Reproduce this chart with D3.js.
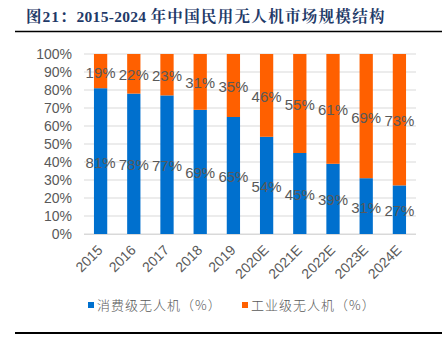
<!DOCTYPE html>
<html><head><meta charset="utf-8">
<script src="https://cdn.jsdelivr.net/npm/d3@7"></script>
<style>body{margin:0;background:#fff}</style>
</head><body>
<svg id="c" width="442" height="351"></svg>
<script>
const categories = ["2015","2016","2017","2018","2019","2020E","2021E","2022E","2023E","2024E"];
const consumer = [81,78,77,69,65,54,45,39,31,27];
const industrial = [19,22,23,31,35,46,55,61,69,73];
const yTicks = [0,10,20,30,40,50,60,70,80,90,100];
const seriesNames = ["消费级无人机（%）","工业级无人机（%）"];
const colors = ["#0070CE","#FF6000"];

const svg = d3.select("#c");
const title = svg.append("text").attr("x",26).attr("y",22)
  .attr("font-family","'Liberation Serif','Noto Serif CJK SC','Noto Sans CJK SC',serif")
  .attr("font-weight","bold").attr("font-size",15.5).attr("fill","#1F3A68");
title.append("tspan").attr("letter-spacing",1).text("图21：");
title.append("tspan").attr("letter-spacing",0.3).text("2015-2024 ");
title.append("tspan").attr("letter-spacing",1.3).text("年中国民用无人机市场规模结构");
svg.append("line").attr("x1",15).attr("x2",442).attr("y1",31.5).attr("y2",31.5).attr("stroke","#000").attr("stroke-width",1.5);
svg.append("line").attr("x1",15).attr("x2",442).attr("y1",333).attr("y2",333).attr("stroke","#000").attr("stroke-width",2);

const m = {l:84, r:416, t:54, b:234};
const x = d3.scaleBand().domain(categories).range([m.l,m.r]).paddingInner(0.6).paddingOuter(0.3);
const y = d3.scaleLinear().domain([0,100]).range([m.b,m.t]);

const g = svg.append("g");
g.selectAll(".grid").data(yTicks).join("line")
  .attr("x1",m.l).attr("x2",m.r).attr("y1",d=>y(d)).attr("y2",d=>y(d))
  .attr("stroke","#d9d9d9").attr("stroke-width",1);

const yAxis = g.append("g").attr("transform",`translate(${m.l},0)`)
  .call(d3.axisLeft(y).tickValues(yTicks).tickFormat(d=>d+"%").tickSize(0).tickPadding(12));
yAxis.select(".domain").remove();
yAxis.selectAll("text").attr("font-family","Liberation Sans, Arial, sans-serif").attr("font-size",14).attr("fill","#595959");

const data = categories.map((c,i)=>({c, a:consumer[i], b:industrial[i]}));
g.selectAll(".ba").data(data).join("rect")
  .attr("x",d=>x(d.c)).attr("width",x.bandwidth())
  .attr("y",d=>y(d.a)).attr("height",d=>y(0)-y(d.a)).attr("fill",colors[0]);
g.selectAll(".bb").data(data).join("rect")
  .attr("x",d=>x(d.c)).attr("width",x.bandwidth())
  .attr("y",d=>y(d.a+d.b)).attr("height",d=>y(d.a)-y(d.a+d.b)).attr("fill",colors[1]);

g.append("line").attr("x1",m.l).attr("x2",m.r).attr("y1",y(0)+0.5).attr("y2",y(0)+0.5).attr("stroke","#d9d9d9");

const lbl = (sel)=>sel.attr("text-anchor","middle").attr("dominant-baseline","central")
  .attr("font-family","Liberation Sans, Arial, sans-serif").attr("font-size",15).attr("fill","#595959");
g.selectAll(".la").data(data).join("text").call(lbl)
  .attr("x",d=>x(d.c)+x.bandwidth()/2).attr("y",d=>y(d.a/2)+1).text(d=>d.a+"%");
g.selectAll(".lb").data(data).join("text").call(lbl)
  .attr("x",d=>x(d.c)+x.bandwidth()/2).attr("y",d=>y(d.a+d.b/2)+1).text(d=>d.b+"%");

const xAxis = g.append("g").attr("transform",`translate(0,${m.b})`)
  .call(d3.axisBottom(x).tickSize(0).tickPadding(0));
xAxis.select(".domain").remove();
xAxis.selectAll("text").attr("font-family","Liberation Sans, Arial, sans-serif").attr("font-size",14).attr("fill","#595959")
  .attr("text-anchor","end").attr("dy",0).attr("transform","translate(3,17) rotate(-45)");

const leg = svg.append("g");
const legX = [88, 242];
seriesNames.forEach((n,i)=>{
  leg.append("rect").attr("x",legX[i]).attr("y",302).attr("width",6).attr("height",6).attr("fill",colors[i]);
  leg.append("text").attr("x",legX[i]+9).attr("y",309.5).attr("letter-spacing",1)
    .attr("font-family","'Noto Sans CJK SC',sans-serif").attr("font-weight",300).attr("font-size",13).attr("fill","#595959").text(n);
});
</script>
</body></html>
